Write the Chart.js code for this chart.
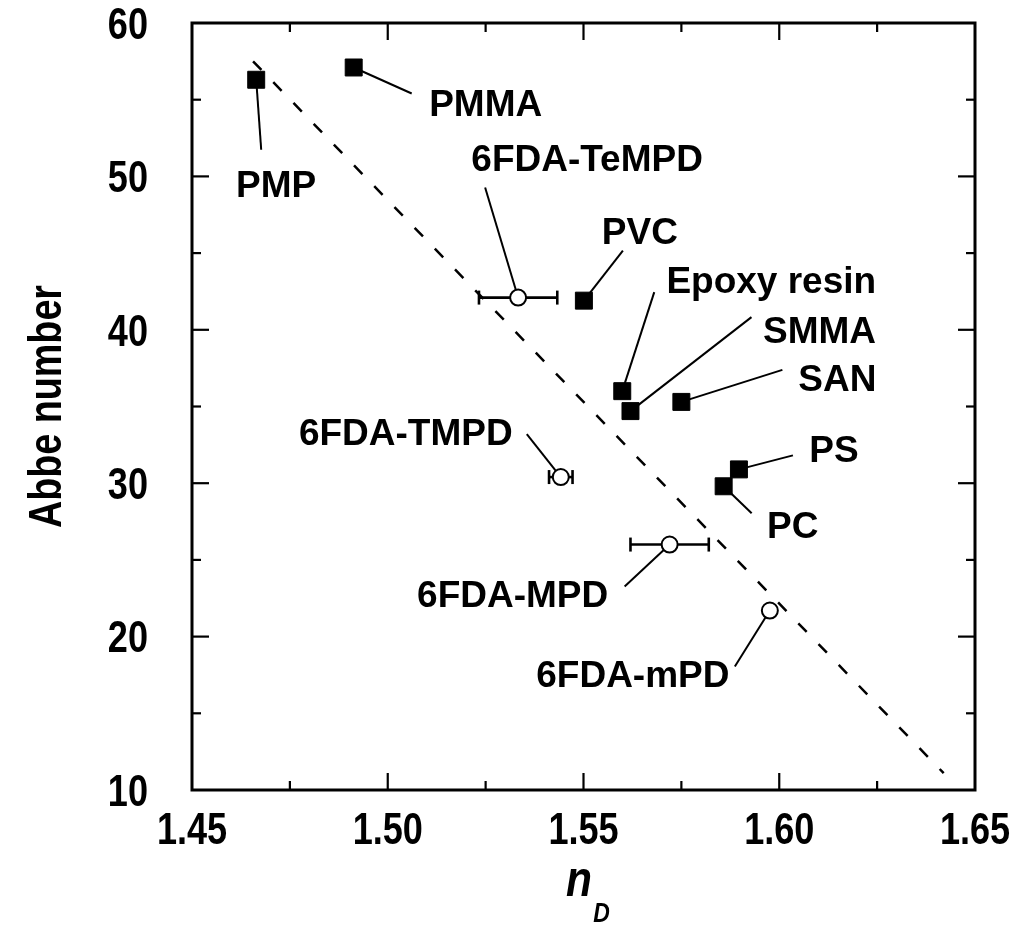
<!DOCTYPE html>
<html>
<head>
<meta charset="utf-8">
<script src="https://cdn.jsdelivr.net/npm/chart.js@4.4.0/dist/chart.umd.min.js"></script>
<style>
  html, body { margin: 0; padding: 0; background: #fff; }
  #wrap { width: 1014px; height: 932px; }
</style>
</head>
<body>
<div id="wrap"><canvas id="grafico" width="1014" height="932"></canvas></div>
<script>
// commercial polymers (filled squares)
const polimeros = ['PMP', 'PMMA', 'PVC', 'Epoxy resin', 'SMMA', 'SAN', 'PS', 'PC'];
const polimerosNd = [1.4664, 1.4913, 1.5501, 1.5599, 1.5620, 1.5750, 1.5897, 1.5858];
const polimerosAbbe = [56.3, 57.1, 41.9, 36.0, 34.7, 35.3, 30.9, 29.8];

// 6FDA polyimides (open circles), with the error on n_D
const poliimidas = ['6FDA-TeMPD', '6FDA-TMPD', '6FDA-MPD', '6FDA-mPD'];
const poliimidasNd = [1.5333, 1.5442, 1.5720, 1.5976];
const poliimidasAbbe = [42.1, 30.4, 26.0, 21.7];
const poliimidasErr = [0.010, 0.003, 0.010, 0];

// dashed guide line
const guiaNd = [1.4656, 1.6420];
const guiaAbbe = [57.5, 11.1];

// labelled ticks
const ticksX = [1.45, 1.50, 1.55, 1.60, 1.65];
const ticksY = [10, 20, 30, 40, 50, 60];

// where each name sits relative to its marker (px): [text dx, text dy, leader dx, leader dy]
const offPolimeros = [[20, 104, 5, 70], [132, 35, 58, 26], [56, -70, 39, -50], [149, -111, 32, -99],
                      [189, -81, 121, -94], [156, -24, 101, -32], [95, -21, 54, -14], [69, 38, 28, 27]];
const offPoliimidas = [[69, -140, -33, -110], [-155, -45, -34, -43], [-157, 49, -45, 42], [-137, 63, -35, 56]];

const fuente = '"Liberation Sans", Arial, Helvetica, sans-serif';

function linea(ctx, x0, y0, x1, y1) {
    ctx.beginPath();
    ctx.moveTo(x0, y0);
    ctx.lineTo(x1, y1);
    ctx.stroke();
}

// narrow bold text (the original uses a condensed face)
function textoAngosto(ctx, txt, x, y, size, align, rot) {
    ctx.save();
    ctx.translate(x, y);
    if (rot) ctx.rotate(rot);
    ctx.scale(0.82, 1);
    ctx.font = `bold ${size}px ${fuente}`;
    ctx.textAlign = align;
    ctx.textBaseline = 'alphabetic';
    ctx.fillText(txt, 0, size * 0.358);
    ctx.restore();
}

const anotaciones = {
    id: 'anotaciones',
    beforeDatasetsDraw(chart) {
        const { ctx, scales: { x, y } } = chart;
        ctx.save();
        ctx.strokeStyle = '#000';
        ctx.lineWidth = 2;
        polimeros.forEach((n, i) => {
            const px = x.getPixelForValue(polimerosNd[i]);
            const py = y.getPixelForValue(polimerosAbbe[i]);
            const o = offPolimeros[i];
            linea(ctx, px + o[2], py + o[3], px, py);
        });
        poliimidas.forEach((n, i) => {
            const px = x.getPixelForValue(poliimidasNd[i]);
            const py = y.getPixelForValue(poliimidasAbbe[i]);
            const o = offPoliimidas[i];
            linea(ctx, px + o[2], py + o[3], px, py);
        });
        // error bars
        ctx.lineWidth = 2.6;
        poliimidas.forEach((n, i) => {
            if (!poliimidasErr[i]) return;
            const x0 = x.getPixelForValue(poliimidasNd[i] - poliimidasErr[i]);
            const x1 = x.getPixelForValue(poliimidasNd[i] + poliimidasErr[i]);
            const py = y.getPixelForValue(poliimidasAbbe[i]);
            linea(ctx, x0, py, x1, py);
            linea(ctx, x0, py - 7, x0, py + 7);
            linea(ctx, x1, py - 7, x1, py + 7);
        });
        ctx.restore();
    },
    afterDatasetsDraw(chart) {
        const { ctx, scales: { x, y } } = chart;
        ctx.save();
        ctx.fillStyle = '#000';
        ctx.font = `bold 37px ${fuente}`;
        ctx.textAlign = 'center';
        ctx.textBaseline = 'alphabetic';
        polimeros.forEach((n, i) => {
            const o = offPolimeros[i];
            ctx.fillText(n, x.getPixelForValue(polimerosNd[i]) + o[0], y.getPixelForValue(polimerosAbbe[i]) + o[1] + 13.3);
        });
        poliimidas.forEach((n, i) => {
            const o = offPoliimidas[i];
            ctx.fillText(n, x.getPixelForValue(poliimidasNd[i]) + o[0], y.getPixelForValue(poliimidasAbbe[i]) + o[1] + 13.3);
        });
        ctx.restore();
    },
    afterDraw(chart) {
        const { ctx, chartArea: a, scales: { x, y } } = chart;
        ctx.save();
        ctx.strokeStyle = '#000';
        ctx.fillStyle = '#000';
        ctx.lineWidth = 2.2;
        // inward ticks on all four sides
        x.ticks.forEach(t => {
            const px = x.getPixelForValue(t.value);
            if (px < a.left + 2 || px > a.right - 2) return;
            const len = t.label ? 17 : 9;
            linea(ctx, px, a.bottom, px, a.bottom - len);
            linea(ctx, px, a.top, px, a.top + len);
        });
        y.ticks.forEach(t => {
            const py = y.getPixelForValue(t.value);
            if (py < a.top + 2 || py > a.bottom - 2) return;
            const len = t.label ? 17 : 9;
            linea(ctx, a.left, py, a.left + len, py);
            linea(ctx, a.right, py, a.right - len, py);
        });
        ctx.lineWidth = 3;
        ctx.strokeRect(a.left, a.top, a.right - a.left, a.bottom - a.top);

        // tick labels
        ticksX.forEach(v => textoAngosto(ctx, v.toFixed(2), x.getPixelForValue(v), a.bottom + 38, 44, 'center'));
        ticksY.forEach(v => textoAngosto(ctx, String(v), a.left - 44, y.getPixelForValue(v), 44, 'right'));

        // axis titles
        textoAngosto(ctx, 'Abbe number', a.left - 147, (a.top + a.bottom) / 2, 46, 'center', -Math.PI / 2);
        ctx.save();
        ctx.translate(566, 896);
        ctx.scale(0.85, 1);
        ctx.textAlign = 'left';
        ctx.textBaseline = 'alphabetic';
        ctx.font = `italic bold 50px ${fuente}`;
        ctx.fillText('n', 0, 0);
        ctx.font = `italic bold 27px ${fuente}`;
        ctx.fillText('D', 32, 26);
        ctx.restore();
        ctx.restore();
    }
};

const datos = {
    datasets: [
        {
            label: 'polymers',
            data: polimerosNd.map((v, i) => ({ x: v, y: polimerosAbbe[i] })),
            pointStyle: 'rect',
            pointRadius: 12,
            backgroundColor: '#000',
            borderColor: '#000',
            borderWidth: 1,
            order: 2
        },
        {
            label: 'polyimides',
            data: poliimidasNd.map((v, i) => ({ x: v, y: poliimidasAbbe[i] })),
            pointStyle: 'circle',
            pointRadius: 8,
            backgroundColor: '#fff',
            borderColor: '#000',
            borderWidth: 2,
            order: 1
        },
        {
            label: 'guide',
            data: guiaNd.map((v, i) => ({ x: v, y: guiaAbbe[i] })),
            showLine: true,
            pointRadius: 0,
            borderColor: '#000',
            borderWidth: 2.5,
            borderDash: [12, 17],
            fill: false,
            order: 3
        }
    ]
};

new Chart(document.getElementById('grafico'), {
    type: 'scatter',
    data: datos,
    options: {
        responsive: false,
        animation: false,
        layout: { padding: { top: 23, right: 39, left: 0, bottom: 0 } },
        plugins: { legend: { display: false }, tooltip: { enabled: false } },
        scales: {
            x: {
                type: 'linear',
                min: 1.45,
                max: 1.65,
                afterFit: s => { s.height = 142; },
                ticks: {
                    stepSize: 0.025,
                    autoSkip: false,
                    display: false,
                    callback: v => ticksX.some(t => Math.abs(t - v) < 1e-6) ? v.toFixed(2) : ''
                },
                grid: { display: false, drawTicks: false },
                border: { display: false }
            },
            y: {
                type: 'linear',
                min: 10,
                max: 60,
                afterFit: s => { s.width = 192; },
                ticks: {
                    stepSize: 5,
                    autoSkip: false,
                    display: false,
                    callback: v => ticksY.includes(v) ? String(v) : ''
                },
                grid: { display: false, drawTicks: false },
                border: { display: false }
            }
        }
    },
    plugins: [anotaciones]
});
</script>
</body>
</html>
